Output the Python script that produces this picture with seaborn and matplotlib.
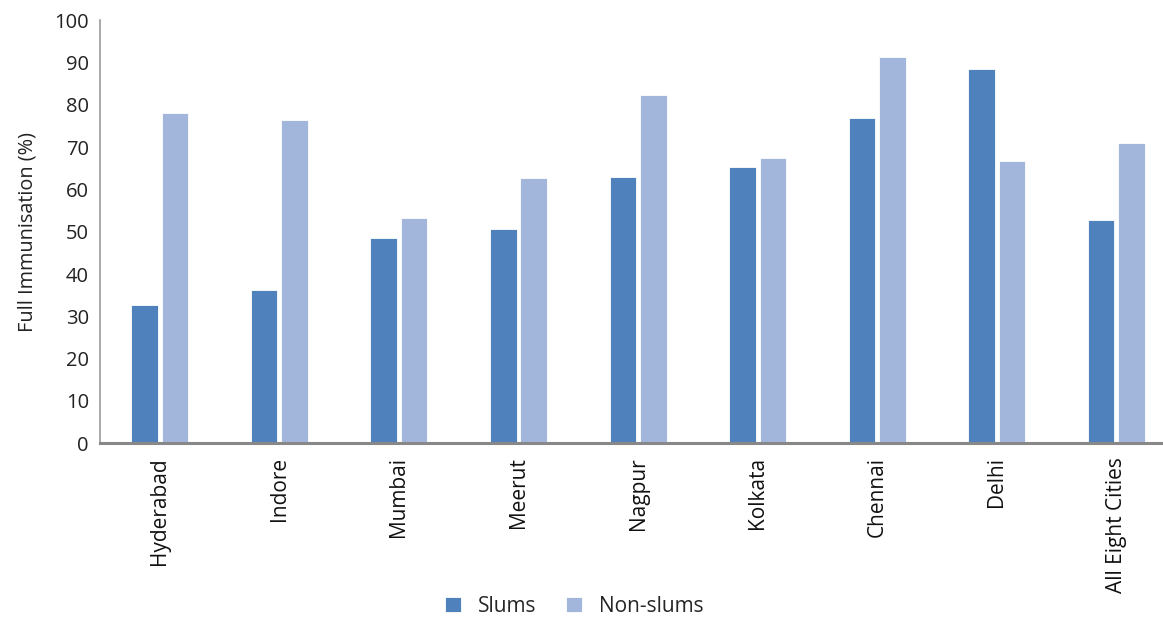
import matplotlib
matplotlib.use("Agg")
import matplotlib.pyplot as plt
import seaborn as sns
import pandas as pd

cities = ["Hyderabad", "Indore", "Mumbai", "Meerut", "Nagpur",
          "Kolkata", "Chennai", "Delhi", "All Eight Cities"]
slums = [32.7, 36.3, 48.5, 50.6, 63.0, 65.3, 76.9, 88.5, 52.8]
non_slums = [78.0, 76.4, 53.3, 62.6, 82.3, 67.4, 91.2, 66.8, 71.0]
series = ["Slums", "Non-slums"]
colors = ["#4F81BD", "#A2B6DC"]
yticks = list(range(0, 101, 10))

df = pd.DataFrame({
    "City": cities * 2,
    "Group": [series[0]] * len(cities) + [series[1]] * len(cities),
    "Value": slums + non_slums,
})

sns.set_theme(style="white")
plt.rcParams["font.family"] = ["Open Sans", "DejaVu Sans"]

fig = plt.figure(figsize=(11.63, 6.17), dpi=100)
ax = fig.add_axes([0.086, 0.2815, 0.914, 0.686])

sns.barplot(data=df, x="City", y="Value", hue="Group", order=cities,
            hue_order=series, palette=colors, width=0.51, gap=0.13,
            saturation=1, edgecolor="white", linewidth=0.6, ax=ax)

ax.set_ylim(0, 100)
ax.set_xlim(-0.5, 8.39)
ax.set_yticks(yticks)
ax.set_yticklabels([str(t) for t in yticks], fontsize=14.5, color="#222222")
ax.tick_params(axis="y", length=0, pad=8)
ax.tick_params(axis="x", length=0, pad=10)
ax.set_xticks(range(len(cities)))
ax.set_xticklabels(cities, rotation=90, fontsize=15, color="#111111", va="top")
ax.set_xlabel("")
ax.set_ylabel("Full Immunisation (%)", fontsize=14.3, color="#222222", labelpad=12)

for side in ["top", "right"]:
    ax.spines[side].set_visible(False)
ax.spines["left"].set_color("#999999")
ax.spines["left"].set_linewidth(1.2)
ax.spines["bottom"].set_color("#888888")
ax.spines["bottom"].set_linewidth(2.2)

handles, labels = ax.get_legend_handles_labels()
ax.legend(handles, labels, loc="center", bbox_to_anchor=(0.446, -0.385),
          ncol=2, frameon=False, fontsize=15, handlelength=0.8, handleheight=0.8,
          handletextpad=0.8, columnspacing=1.4)

fig.savefig("out.png", dpi=100, facecolor="white")
